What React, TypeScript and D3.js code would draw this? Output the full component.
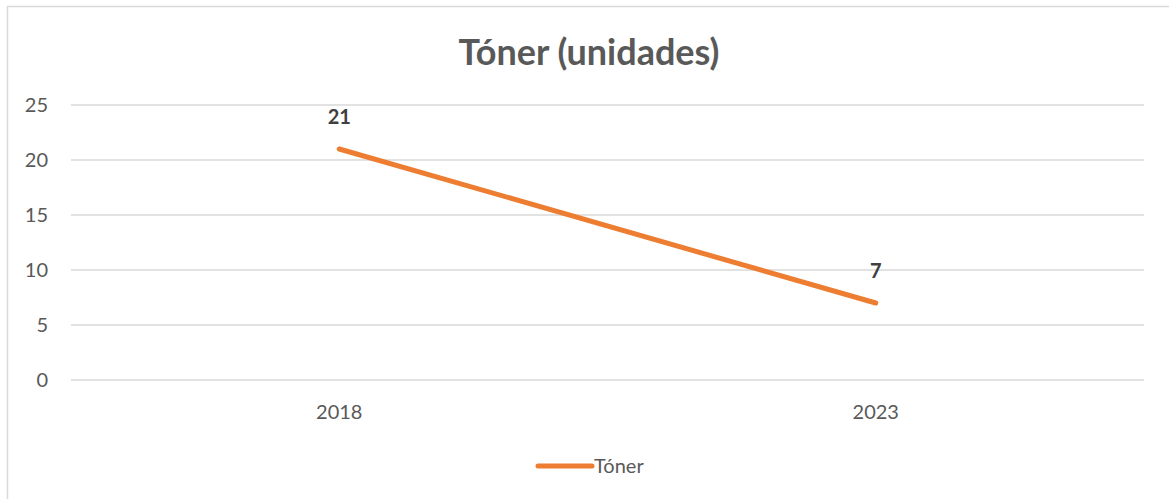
import React, { useRef, useEffect } from "react";
import * as d3 from "d3";

const categories = ["2018", "2023"];
const tonerValues = [21, 7];
const yTicks = [0, 5, 10, 15, 20, 25];
const seriesName = "Tóner";
const chartTitle = "Tóner (unidades)";

export default function App() {
  const ref = useRef<SVGSVGElement>(null);

  useEffect(() => {
    const width = 1169;
    const height = 499;
    const margin = { top: 105, right: 25, bottom: 119, left: 71 };
    const font = "Lato, 'Open Sans', sans-serif";

    const svg = d3.select(ref.current);
    svg.selectAll("*").remove();
    svg.attr("width", width).attr("height", height);

    // chart frame
    svg
      .append("rect")
      .attr("x", 7.5)
      .attr("y", 6.5)
      .attr("width", width + 20)
      .attr("height", height + 20)
      .attr("fill", "#fff")
      .attr("stroke", "#d9d9d9")
      .attr("stroke-width", 1.5);

    const x = d3
      .scaleBand()
      .domain(categories)
      .range([margin.left, width - margin.right]);

    const y = d3
      .scaleLinear()
      .domain([0, 25])
      .range([height - margin.bottom, margin.top]);

    // gridlines
    svg
      .append("g")
      .selectAll("line")
      .data(yTicks)
      .enter()
      .append("line")
      .attr("x1", margin.left)
      .attr("x2", width - margin.right)
      .attr("y1", (d) => y(d))
      .attr("y2", (d) => y(d))
      .attr("stroke", "#d9d9d9")
      .attr("stroke-width", 1.3);

    // y tick labels
    svg
      .append("g")
      .selectAll("text")
      .data(yTicks)
      .enter()
      .append("text")
      .attr("x", 48)
      .attr("y", (d) => y(d))
      .attr("dy", "0.35em")
      .attr("text-anchor", "end")
      .attr("fill", "#595959")
      .style("font-family", font)
      .style("font-size", "20px")
      .text((d) => d);

    // x labels
    svg
      .append("g")
      .selectAll("text")
      .data(categories)
      .enter()
      .append("text")
      .attr("x", (d) => (x(d) as number) + x.bandwidth() / 2)
      .attr("y", 419)
      .attr("text-anchor", "middle")
      .attr("fill", "#595959")
      .style("font-family", font)
      .style("font-size", "20px")
      .text((d) => d);

    const pts = categories.map((c, i) => ({ c, v: tonerValues[i] }));
    const line = d3
      .line<{ c: string; v: number }>()
      .x((d) => (x(d.c) as number) + x.bandwidth() / 2)
      .y((d) => y(d.v));

    svg
      .append("path")
      .datum(pts)
      .attr("d", line)
      .attr("fill", "none")
      .attr("stroke", "#ed7d31")
      .attr("stroke-width", 5)
      .attr("stroke-linecap", "round");

    // data labels
    svg
      .append("g")
      .selectAll("text")
      .data(pts)
      .enter()
      .append("text")
      .attr("x", (d) => (x(d.c) as number) + x.bandwidth() / 2)
      .attr("y", (d) => y(d.v) - 25)
      .attr("text-anchor", "middle")
      .attr("fill", "#404040")
      .style("font-family", font)
      .style("font-size", "20px")
      .style("font-weight", "bold")
      .text((d) => d.v);

    // title
    svg
      .append("text")
      .attr("x", 589)
      .attr("y", 65)
      .attr("text-anchor", "middle")
      .attr("fill", "#595959")
      .style("font-family", font)
      .style("font-size", "36px")
      .style("font-weight", "bold")
      .text(chartTitle);

    // legend
    const lg = svg.append("g");
    lg.append("line")
      .attr("x1", 538)
      .attr("x2", 592)
      .attr("y1", 466)
      .attr("y2", 466)
      .attr("stroke", "#ed7d31")
      .attr("stroke-width", 5)
      .attr("stroke-linecap", "round");
    lg.append("text")
      .attr("x", 594)
      .attr("y", 466)
      .attr("dy", "0.35em")
      .attr("fill", "#595959")
      .style("font-family", font)
      .style("font-size", "20px")
      .text(seriesName);
  }, []);

  return (
    <div style={{ position: "absolute", left: 0, top: 0 }}>
      <svg ref={ref}></svg>
    </div>
  );
}
